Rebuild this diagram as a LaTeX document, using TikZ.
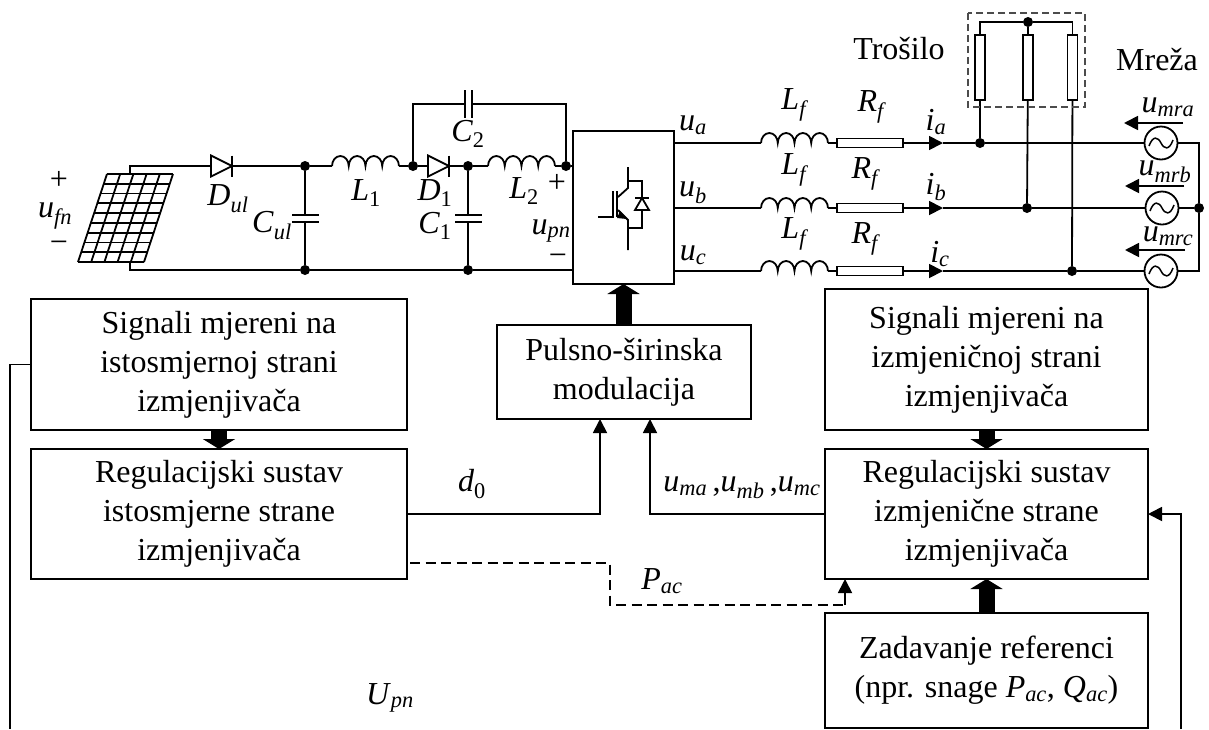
\documentclass[tikz,border=0pt]{standalone}
\usepackage{fontspec}
\setmainfont{Liberation Serif}
\usepackage{tikz}
\usetikzlibrary{arrows.meta}
\usetikzlibrary{calc}
\newcommand{\ind}[2]{\textit{#1}\textsubscript{\textit{#2}}}

\begin{document}
\begin{tikzpicture}[x=1pt,y=-1pt,line join=miter,
    wire/.style={line width=1.8pt},
    dashwire/.style={line width=1.8pt,dash pattern=on 10pt off 5.5pt},
    sigarrow/.style={wire,-{Triangle[length=14pt,width=14pt]}},
    thickarrow/.style={line width=16pt,-{Triangle[length=10pt,width=32pt]}},
    block/.style={draw,line width=1.8pt,align=center,inner sep=0pt,outer sep=0pt,font=\fontsize{32}{39}\selectfont,execute at begin node=\rule{0pt}{27pt}},
    dotnode/.style={circle,fill=black,inner sep=0pt,minimum size=10pt},
    lab/.style={inner sep=0pt,font=\fontsize{32}{32}\selectfont},
    resnode/.style={draw,line width=1.8pt,fill=white,inner sep=0pt,outer sep=0pt,minimum width=66pt,minimum height=9pt},
    loadnode/.style={draw,line width=1.8pt,fill=white,inner sep=0pt,outer sep=0pt,minimum width=10pt,minimum height=65pt},
    srcnode/.style={draw,circle,line width=1.8pt,fill=white,inner sep=0pt,outer sep=0pt,minimum size=33pt},
    coil/.pic={
        \coordinate (-in) at (0,0);
        \coordinate (-out) at (67,0);
        \draw[wire] (0,0) arc[start angle=180,end angle=360,x radius=8.37,y radius=10]
            arc[start angle=180,end angle=360,x radius=8.37,y radius=10]
            arc[start angle=180,end angle=360,x radius=8.37,y radius=10]
            arc[start angle=180,end angle=360,x radius=8.37,y radius=10];
    },
    diode/.pic={
        \coordinate (-in) at (0,0);
        \coordinate (-out) at (21,0);
        \draw[wire,fill=white] (0,-10.5) -- (21,0) -- (0,10.5) -- cycle;
        \draw[wire] (21,-10.5) -- (21,10.5);
    },
    wave/.pic={
        \draw[line width=1.5pt] (-12,3) .. controls (-8,-8) and (-3,-6) .. (0,0) .. controls (3,6) and (8,8) .. (12,-3);
    }
]
\useasboundingbox (0,0) rectangle (1209,729);

% PV panel
\coordinate (pnl_tl) at (107,174);
\coordinate (pnl_tr) at (173,174);
\coordinate (pnl_bl) at (78,262);
\coordinate (pnl_br) at (144,262);
\foreach \i in {0,...,5}
    \draw[wire] ($(pnl_tl)!\i/5!(pnl_tr)$) -- ($(pnl_bl)!\i/5!(pnl_br)$);
\foreach \i in {0,...,9}
    \draw[wire] ($(pnl_tl)!\i/9!(pnl_bl)$) -- ($(pnl_tr)!\i/9!(pnl_br)$);
\coordinate (pnl_t) at (130,174);
\coordinate (pnl_b) at (130,262);
\node[lab] (plus_fn) at (59,180) {+};
\node[lab] (ufn) at (55,216) {\ind{u}{fn}};
\node[lab] (minus_fn) at (59,247) {−};

% DC side junctions
\node[dotnode] (n1t) at (305,166) {};
\node[dotnode] (n1b) at (305,270) {};
\node[dotnode] (n2) at (413,166) {};
\node[dotnode] (n3t) at (468,166) {};
\node[dotnode] (n3b) at (468,270) {};
\node[dotnode] (n4) at (566,166) {};

% Converter block
\node[draw,line width=1.8pt,inner sep=0pt,outer sep=0pt,minimum width=101pt,minimum height=153pt] (conv) at (623.5,207.5) {};

% Top and bottom rails
\pic (Dul) at (211,166) {diode};
\draw[wire] (pnl_t) |- (Dul-in);
\draw[wire] (Dul-out) -- (n1t);
\pic (L1) at (332,166) {coil};
\draw[wire] (n1t) -- (L1-in);
\draw[wire] (L1-out) -- (n2);
\pic (D1) at (428,166) {diode};
\draw[wire] (n2) -- (D1-in);
\draw[wire] (D1-out) -- (n3t);
\pic (L2) at (488,166) {coil};
\draw[wire] (n3t) -- (L2-in);
\draw[wire] (L2-out) -- (n4);
\draw[wire] (n4) -- (573,166);
\draw[wire] (pnl_b) |- (n1b);
\draw[wire] (n1b) -- (n3b);
\draw[wire] (n3b) -- (573,270);

% Capacitor Cul
\coordinate (cul_t) at (305,215);
\coordinate (cul_b) at (305,222);
\draw[wire] (n1t) -- (cul_t);
\draw[wire] (cul_b) -- (n1b);
\draw[line width=2pt] (292,215) -- (319,215);
\draw[line width=2pt] (292,222) -- (319,222);

% Capacitor C1
\coordinate (c1_t) at (468,215);
\coordinate (c1_b) at (468,222);
\draw[wire] (n3t) -- (c1_t);
\draw[wire] (c1_b) -- (n3b);
\draw[line width=2pt] (455,215) -- (482,215);
\draw[line width=2pt] (455,222) -- (482,222);

% Capacitor C2 on the loop
\coordinate (c2_l) at (465,104);
\coordinate (c2_r) at (472,104);
\draw[wire] (n2) |- (c2_l);
\draw[wire] (c2_r) -| (n4);
\draw[line width=2pt] (465,90) -- (465,118);
\draw[line width=2pt] (472,90) -- (472,118);

% DC side labels
\node[lab] (lDul) at (228,199) {\ind{D}{ul}};
\node[lab] (lCul) at (272,226) {\ind{C}{ul}};
\node[lab] (lL1) at (366,193) {\ind{L}{\textup{1}}};
\node[lab] (lC2) at (468,134) {\ind{C}{\textup{2}}};
\node[lab] (lD1) at (435,193) {\ind{D}{\textup{1}}};
\node[lab] (lC1) at (435,226) {\ind{C}{\textup{1}}};
\node[lab] (lL2) at (524,191) {\ind{L}{\textup{2}}};
\node[lab] (plus_pn) at (557,183) {+};
\node[lab] (upn) at (551,231) {\ind{u}{pn}};
\node[lab] (minus_pn) at (558,260) {−};

% Switch symbol
\draw[wire] (598,217) -- (613,217) -- (613,191);
\draw[wire] (617,191) -- (617,217);
\draw[wire] (628,167) -- (628,188) -- (618,197);
\draw[wire] (618,210) -- (628,220) -- (628,250);
\fill (620,211) -- (627,219) -- (617,218) -- cycle;
\draw[wire] (628,181) -- (642,181) -- (642,228) -- (628,228);
\draw[wire,fill=white] (642,198) -- (635,210) -- (649,210) -- cycle;
\draw[wire] (635,198) -- (649,198);

% Phase a
\pic (La) at (761,143) {coil};
\node[resnode] (Ra) at (870,143) {};
\node[dotnode] (na) at (980,143) {};
\coordinate (ia_tip) at (943,143);
\node[srcnode] (sa) at (1161,143) {};
\pic at (sa) {wave};
\draw[wire] (conv.east |- La-in) -- (La-in);
\draw[wire] (La-out) -- (Ra);
\draw[sigarrow] (Ra) -- (ia_tip);
\draw[wire] (ia_tip) -- (na);
\draw[wire] (na) -- (sa);

% Phase b
\pic (Lb) at (761,208) {coil};
\node[resnode] (Rb) at (870,208) {};
\node[dotnode] (nb) at (1027,208) {};
\coordinate (ib_tip) at (943,208);
\node[srcnode] (sb) at (1162,208) {};
\pic at (sb) {wave};
\draw[wire] (conv.east |- Lb-in) -- (Lb-in);
\draw[wire] (Lb-out) -- (Rb);
\draw[sigarrow] (Rb) -- (ib_tip);
\draw[wire] (ib_tip) -- (nb);
\draw[wire] (nb) -- (sb);

% Phase c
\pic (Lc) at (761,271) {coil};
\node[resnode] (Rc) at (870,271) {};
\node[dotnode] (nc) at (1072,271) {};
\coordinate (ic_tip) at (943,271);
\node[srcnode] (sc) at (1161,271) {};
\pic at (sc) {wave};
\draw[wire] (conv.east |- Lc-in) -- (Lc-in);
\draw[wire] (Lc-out) -- (Rc);
\draw[sigarrow] (Rc) -- (ic_tip);
\draw[wire] (ic_tip) -- (nc);
\draw[wire] (nc) -- (sc);

% Load
\node[loadnode] (ta) at (980,67.5) {};
\node[loadnode] (tb) at (1028,67.5) {};
\node[loadnode] (tc) at (1072.5,67.5) {};
\node[dotnode] (nl) at (1028,22) {};
\draw[wire] (ta.north) |- (nl);
\draw[wire] (tc.north) |- (nl);
\draw[wire] (nl) -- (tb);
\draw[wire] (ta) -- (na);
\draw[wire] (tb) -- (nb);
\draw[wire] (tc) -- (nc);
\draw[line width=1.3pt,black!70,dash pattern=on 7pt off 4pt] (968,13) rectangle (1085,107);

% Grid star point
\node[dotnode] (nn) at (1199,208) {};
\draw[wire] (sa) -| (nn);
\draw[wire] (sc) -| (nn);
\draw[wire] (sb) -- (nn);

% Voltage arrows of the grid
\coordinate (ua_s) at (1183,123);
\coordinate (ua_e) at (1124,123);
\coordinate (ub_s) at (1184,186);
\coordinate (ub_e) at (1125,186);
\coordinate (uc_s) at (1185,250);
\coordinate (uc_e) at (1125,250);
\draw[sigarrow] (ua_s) -- (ua_e);
\draw[sigarrow] (ub_s) -- (ub_e);
\draw[sigarrow] (uc_s) -- (uc_e);

% AC side labels
\node[lab] (lua) at (693,125) {\ind{u}{a}};
\node[lab] (lub) at (693,193) {\ind{u}{b}};
\node[lab] (luc) at (693,255) {\ind{u}{c}};
\node[lab] (lLa) at (795,105) {\ind{L}{f}};
\node[lab] (lLb) at (795,170) {\ind{L}{f}};
\node[lab] (lLc) at (795,234) {\ind{L}{f}};
\node[lab] (lRa) at (872,107) {\ind{R}{f}};
\node[lab] (lRb) at (866,174) {\ind{R}{f}};
\node[lab] (lRc) at (866,239) {\ind{R}{f}};
\node[lab] (lia) at (936,122) {\ind{i}{a}};
\node[lab] (lib) at (936,187) {\ind{i}{b}};
\node[lab] (lic) at (940,254) {\ind{i}{c}};
\node[lab] (ltro) at (899,49) {Trošilo};
\node[lab] (lmre) at (1157,60) {Mreža};
\node[lab] (lumra) at (1168,107) {\ind{u}{mra}};
\node[lab] (lumrb) at (1165,172) {\ind{u}{mrb}};
\node[lab] (lumrc) at (1168,236) {\ind{u}{mrc}};

% Control blocks
\node[block,minimum width=376pt,minimum height=131pt] (sigdc) at (219,364.5) {Signali mjereni na\\istosmjernoj strani\\izmjenjivača};
\node[block,minimum width=376pt,minimum height=130pt] (regdc) at (219,514) {Regulacijski sustav\\istosmjerne strane\\izmjenjivača};
\node[block,minimum width=254pt,minimum height=94pt] (pwm) at (624,372) {Pulsno-širinska\\modulacija};
\node[block,minimum width=323pt,minimum height=141pt] (sigac) at (986.5,359.5) {Signali mjereni na\\izmjeničnoj strani\\izmjenjivača};
\node[block,minimum width=323pt,minimum height=130pt] (regac) at (986.5,514) {Regulacijski sustav\\izmjenične strane\\izmjenjivača};
\node[block,minimum width=323pt,minimum height=115pt] (refac) at (986.5,670.5) {Zadavanje referenci\\(npr. snage \ind{P}{ac}, \ind{Q}{ac})};

% Thick arrows
\draw[thickarrow] (pwm.north -| conv.south) -- (conv.south);
\draw[thickarrow] (sigdc) -- (regdc);
\draw[thickarrow] (sigac) -- (regac);
\draw[thickarrow] (refac) -- (regac);

% Signal lines
\coordinate (d0_in) at (600,419);
\coordinate (um_in) at (650,419);
\draw[sigarrow] (regdc.east) -| (d0_in);
\draw[sigarrow] (regac.west) -| (um_in);
\node[lab] (ld0) at (472,484) {\ind{d}{\textup{0}}};
\node[lab] (lum) at (742,488) {\ind{u}{ma}\,,\ind{u}{mb}\,,\ind{u}{mc}};

% Power reference, dashed
\coordinate (pac_a) at (410,563);
\coordinate (pac_b) at (610,563);
\coordinate (pac_c) at (610,605);
\coordinate (pac_d) at (845,605);
\coordinate (pac_e) at (845,579);
\draw[dashwire] (pac_a) -- (pac_b) -- (pac_c) -- (pac_d);
\draw[sigarrow] (pac_d) -- (pac_e);
\node[lab] (lpac) at (662,581) {\ind{P}{ac}};

% Feedback lines, cut at the lower edge
\coordinate (fbl_o) at (10,729);
\coordinate (fbr_o) at (1181,729);
\coordinate (fbr_t) at (1181,514);
\draw[wire] (sigdc.west) -| (fbl_o);
\draw[sigarrow] (fbr_o) -- (fbr_t) -- (regac.east);
\node[lab] (lupn) at (390,698) {\ind{U}{pn}};

\end{tikzpicture}
\end{document}
